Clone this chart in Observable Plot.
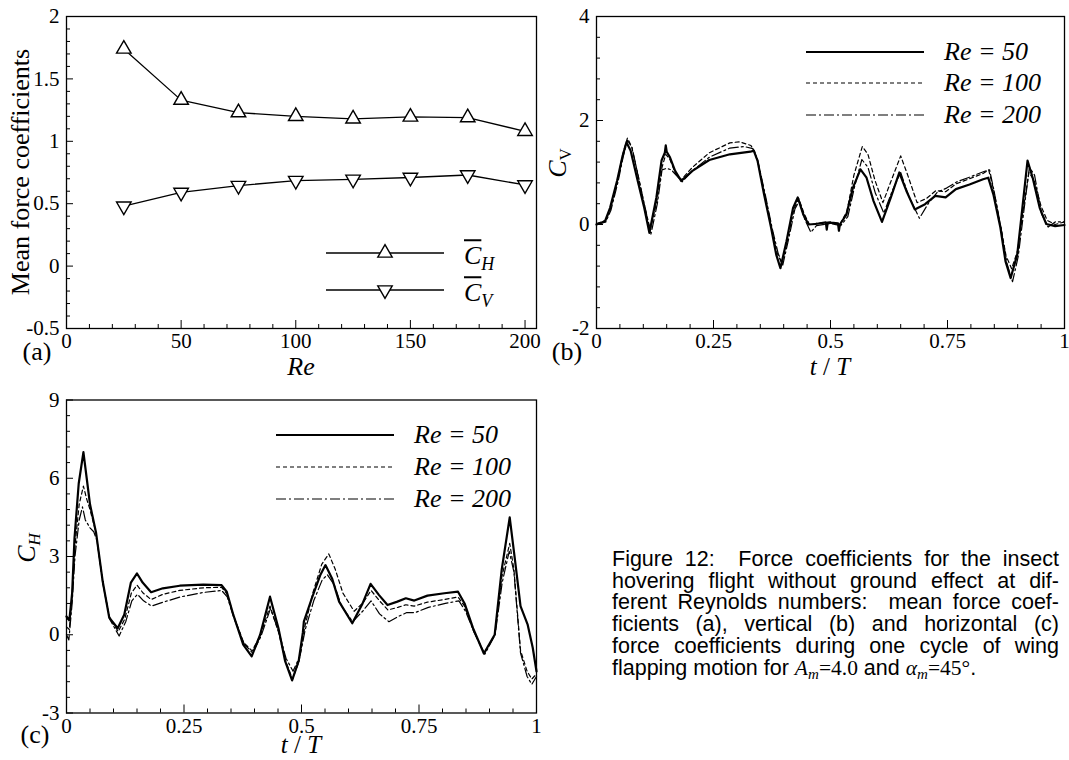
<!DOCTYPE html>
<html><head><meta charset="utf-8">
<script src="https://cdn.jsdelivr.net/npm/d3@7"></script>
<script src="https://cdn.jsdelivr.net/npm/@observablehq/plot@0.6"></script>
<style>
html,body{margin:0;padding:0;background:#fff;}
#fig{position:relative;width:1069px;height:760px;overflow:hidden;background:#fff;font-family:'Liberation Serif','Times New Roman',serif;color:#000;}
.abs{position:absolute;white-space:nowrap;line-height:0.75;}
.panel{position:absolute;}
.panel svg{overflow:visible;}
.cap{position:absolute;left:612px;top:549px;width:447px;font-family:'Liberation Sans',Arial,sans-serif;font-size:21.5px;line-height:21.7px;}
.cap div{text-align:justify;text-align-last:justify;white-space:nowrap;}
.cap div.last{text-align:left;text-align-last:left;}
.m{font-family:'Liberation Serif','Times New Roman',serif;}
.sb{font-size:70%;position:relative;top:0.28em;}
</style></head><body><div id="fig"></div>
<script>
// ---------- Panel (a): mean force coefficients ----------
const reynolds = [25, 50, 75, 100, 125, 150, 175, 200];
const meanCH = [1.74, 1.33, 1.23, 1.20, 1.18, 1.195, 1.19, 1.08];
const meanCV = [0.48, 0.59, 0.645, 0.685, 0.695, 0.71, 0.73, 0.65];
const aXMajor = [0, 50, 100, 150, 200];
const aXMinor = [10,20,30,40,60,70,80,90,110,120,130,140,160,170,180,190];
const aYMajor = [-0.5, 0, 0.5, 1, 1.5, 2];
const aYMinor = [-0.4,-0.3,-0.2,-0.1,0.1,0.2,0.3,0.4,0.6,0.7,0.8,0.9,1.1,1.2,1.3,1.4,1.6,1.7,1.8,1.9];

// ---------- Panel (b): C_V over one cycle ----------
const cvRe50 = [[0.000,0.0],[0.018,0.06],[0.029,0.32],[0.044,0.84],[0.055,1.29],[0.064,1.58],[0.073,1.42],[0.088,0.84],[0.102,0.32],[0.113,-0.16],[0.128,0.52],[0.139,1.23],[0.146,1.38],[0.148,1.52],[0.150,1.40],[0.157,1.29],[0.168,1.03],[0.181,0.84],[0.205,1.03],[0.241,1.24],[0.285,1.35],[0.329,1.40],[0.336,1.42],[0.344,1.23],[0.358,0.58],[0.373,-0.06],[0.384,-0.58],[0.393,-0.84],[0.406,-0.32],[0.420,0.32],[0.430,0.52],[0.442,0.19],[0.453,0.0],[0.468,0.01],[0.490,0.04],[0.492,-0.10],[0.494,0.03],[0.506,0.03],[0.516,0.02],[0.518,-0.12],[0.520,0.0],[0.534,0.19],[0.548,0.71],[0.564,1.06],[0.577,0.90],[0.592,0.45],[0.610,0.05],[0.629,0.52],[0.647,1.0],[0.662,0.65],[0.680,0.29],[0.702,0.39],[0.724,0.55],[0.746,0.52],[0.768,0.68],[0.797,0.77],[0.826,0.87],[0.837,0.90],[0.848,0.58],[0.863,-0.06],[0.874,-0.71],[0.885,-1.03],[0.899,-0.58],[0.910,0.32],[0.921,1.23],[0.932,0.90],[0.947,0.32],[0.961,0.01],[0.980,-0.03],[1.000,-0.01]];
const cvRe100 = [[0.000,0.02],[0.020,0.08],[0.030,0.30],[0.045,0.85],[0.056,1.35],[0.066,1.66],[0.075,1.50],[0.090,0.90],[0.104,0.30],[0.115,-0.10],[0.129,0.45],[0.140,1.10],[0.148,1.35],[0.157,1.25],[0.168,1.00],[0.181,0.86],[0.205,1.10],[0.241,1.38],[0.285,1.57],[0.305,1.59],[0.330,1.52],[0.338,1.40],[0.346,1.15],[0.360,0.55],[0.375,-0.10],[0.386,-0.55],[0.396,-0.75],[0.408,-0.30],[0.422,0.30],[0.432,0.50],[0.444,0.20],[0.455,0.0],[0.470,0.02],[0.500,0.05],[0.520,0.0],[0.535,0.25],[0.550,0.95],[0.568,1.50],[0.580,1.35],[0.595,0.85],[0.612,0.42],[0.630,0.85],[0.650,1.32],[0.665,0.95],[0.685,0.42],[0.705,0.50],[0.725,0.65],[0.746,0.63],[0.768,0.78],[0.797,0.88],[0.826,0.98],[0.838,1.05],[0.849,0.65],[0.864,-0.05],[0.875,-0.60],[0.887,-0.85],[0.900,-0.50],[0.912,0.30],[0.924,1.00],[0.935,0.85],[0.950,0.35],[0.963,0.08],[0.980,0.0],[1.000,0.05]];
const cvRe200 = [[0.000,0.0],[0.020,0.05],[0.031,0.28],[0.046,0.82],[0.057,1.30],[0.066,1.62],[0.076,1.48],[0.091,0.85],[0.105,0.28],[0.116,-0.20],[0.130,0.40],[0.140,1.05],[0.150,1.08],[0.160,1.05],[0.170,0.95],[0.183,0.82],[0.207,1.05],[0.242,1.30],[0.285,1.47],[0.315,1.50],[0.334,1.46],[0.344,1.25],[0.360,0.60],[0.376,-0.10],[0.388,-0.55],[0.398,-0.78],[0.410,-0.30],[0.424,0.30],[0.433,0.45],[0.445,0.10],[0.458,-0.15],[0.470,-0.02],[0.500,0.02],[0.522,-0.02],[0.537,0.15],[0.552,0.75],[0.567,1.25],[0.580,1.10],[0.596,0.60],[0.614,0.22],[0.632,0.65],[0.650,1.00],[0.667,0.55],[0.690,0.12],[0.710,0.42],[0.728,0.62],[0.748,0.70],[0.770,0.82],[0.800,0.92],[0.828,1.02],[0.840,1.05],[0.850,0.62],[0.865,-0.10],[0.877,-0.75],[0.889,-1.10],[0.901,-0.62],[0.913,0.25],[0.925,1.10],[0.936,0.95],[0.951,0.20],[0.965,-0.05],[0.980,0.05],[1.000,0.05]];
const tMajor = [0, 0.25, 0.5, 0.75, 1];
const tMinor = [0.05,0.1,0.15,0.2,0.3,0.35,0.4,0.45,0.55,0.6,0.65,0.7,0.8,0.85,0.9,0.95];
const bYMajor = [-2, 0, 2, 4];
const bYMinor = [-1.6,-1.2,-0.8,-0.4,0.4,0.8,1.2,1.6,2.4,2.8,3.2,3.6];

// ---------- Panel (c): C_H over one cycle ----------
const chRe50 = [[0.000,0.70],[0.006,0.55],[0.012,1.6],[0.017,3.7],[0.026,5.8],[0.036,7.0],[0.043,6.0],[0.050,5.0],[0.063,3.9],[0.077,2.05],[0.091,0.65],[0.109,0.25],[0.123,0.78],[0.137,2.0],[0.150,2.35],[0.162,2.0],[0.180,1.63],[0.205,1.78],[0.241,1.88],[0.291,1.92],[0.330,1.90],[0.341,1.65],[0.355,0.76],[0.376,-0.38],[0.394,-0.83],[0.412,0.0],[0.433,1.46],[0.451,0.25],[0.465,-1.0],[0.480,-1.75],[0.494,-1.0],[0.503,0.1],[0.505,0.5],[0.522,1.4],[0.540,2.29],[0.551,2.67],[0.565,2.16],[0.580,1.27],[0.608,0.44],[0.630,1.2],[0.647,1.95],[0.665,1.52],[0.683,1.14],[0.704,1.27],[0.722,1.4],[0.740,1.31],[0.768,1.5],[0.804,1.59],[0.833,1.65],[0.847,1.2],[0.865,0.25],[0.888,-0.72],[0.911,0.0],[0.926,2.5],[0.943,4.5],[0.954,2.9],[0.966,1.1],[0.981,0.4],[0.992,-0.5],[1.000,-1.4]];
const chRe100 = [[0.000,0.3],[0.006,0.2],[0.012,1.5],[0.018,3.4],[0.027,5.0],[0.036,5.7],[0.043,5.2],[0.050,4.8],[0.063,3.9],[0.077,2.0],[0.091,0.7],[0.110,0.12],[0.124,0.6],[0.138,1.6],[0.150,1.9],[0.163,1.6],[0.180,1.35],[0.205,1.55],[0.241,1.70],[0.291,1.80],[0.330,1.82],[0.342,1.55],[0.356,0.7],[0.377,-0.3],[0.395,-0.62],[0.413,0.0],[0.433,1.1],[0.451,0.1],[0.466,-1.0],[0.481,-1.7],[0.495,-1.0],[0.507,0.3],[0.524,1.6],[0.543,2.7],[0.558,3.1],[0.572,2.5],[0.588,1.6],[0.612,0.9],[0.632,1.25],[0.648,1.7],[0.666,1.3],[0.684,0.95],[0.705,1.05],[0.722,1.15],[0.740,1.1],[0.768,1.25],[0.804,1.35],[0.833,1.45],[0.847,1.1],[0.865,0.2],[0.889,-0.72],[0.911,0.0],[0.926,2.2],[0.943,3.5],[0.952,2.5],[0.966,-0.6],[0.980,-1.4],[0.990,-1.7],[1.000,-1.5]];
const chRe200 = [[0.000,0.0],[0.005,-0.2],[0.012,1.2],[0.018,3.0],[0.027,4.4],[0.034,4.9],[0.040,4.4],[0.050,4.1],[0.058,3.95],[0.065,3.6],[0.078,1.9],[0.092,0.6],[0.112,-0.05],[0.126,0.5],[0.139,1.3],[0.151,1.55],[0.164,1.3],[0.181,1.1],[0.206,1.25],[0.242,1.45],[0.291,1.62],[0.330,1.70],[0.342,1.45],[0.357,0.6],[0.378,-0.35],[0.396,-0.7],[0.414,-0.05],[0.434,1.0],[0.452,0.1],[0.467,-0.9],[0.482,-1.4],[0.497,-0.8],[0.508,0.2],[0.526,1.3],[0.544,2.1],[0.555,2.3],[0.570,1.9],[0.585,1.1],[0.609,0.5],[0.630,0.9],[0.648,1.3],[0.666,0.8],[0.686,0.5],[0.706,0.7],[0.724,0.85],[0.742,0.85],[0.770,1.05],[0.806,1.2],[0.835,1.3],[0.849,0.9],[0.867,0.1],[0.890,-0.75],[0.912,0.0],[0.927,2.0],[0.942,3.2],[0.952,2.4],[0.966,-0.7],[0.980,-1.6],[0.990,-1.9],[1.000,-1.6]];
const cYMajor = [-3, 0, 3, 6, 9];
const cYMinor = [-2.4,-1.8,-1.2,-0.6,0.6,1.2,1.8,2.4,3.6,4.2,4.8,5.4,6.6,7.2,7.8,8.4];

const seriesNames = ["Re = 50", "Re = 100", "Re = 200"];
const captionLines = [
  "Figure 12:&nbsp; Force coefficients for the insect",
  "hovering flight without ground effect at dif-",
  "ferent Reynolds numbers:&nbsp; mean force coef-",
  "ficients (a), vertical (b) and horizontal (c)",
  "force coefficients during one cycle of wing",
  "flapping motion for <span class='m'><i>A</i><span class='sb'><i>m</i></span>=4.0</span> and <span class='m'><i>α</i><span class='sb'><i>m</i></span>=45°</span>."
];

// ---------- styles ----------
const lineStyles = [
  {strokeWidth: 2.2, strokeDasharray: null},
  {strokeWidth: 1.2, strokeDasharray: "4,3"},
  {strokeWidth: 1.2, strokeDasharray: "10,3,2,3"}
];

const fig = document.getElementById("fig");
const toRows = (pairs) => pairs.map(([t, v]) => ({t, v}));

function addText(html, x, y, o = {}) {
  const d = document.createElement("div");
  d.className = "abs";
  d.innerHTML = html;
  d.style.left = x + "px";
  d.style.top = y + "px";
  d.style.fontSize = (o.size || 26) + "px";
  if (o.italic) d.style.fontStyle = "italic";
  let tr = o.anchor === "left" ? "translate(0,-50%)" : "translate(-50%,-50%)";
  if (o.rotate) tr += " rotate(-90deg)";
  d.style.transform = tr;
  fig.appendChild(d);
}

function panel(o) {
  const chart = Plot.plot({
    width: o.width, height: o.height,
    marginLeft: o.ml, marginRight: o.mr, marginTop: o.mt, marginBottom: o.mb,
    x: {domain: o.xDomain}, y: {domain: o.yDomain},
    style: {fontFamily: "'Liberation Serif','Times New Roman',serif", fontSize: "21px", color: "black", background: "transparent", overflow: "visible"},
    marks: [
      ...o.marks,
      Plot.frame({stroke: "black", strokeWidth: 1.3}),
      Plot.axisX(o.xMinor, {anchor: "bottom", tickSize: -4, fill: "none", label: null}),
      Plot.axisX(o.xMajor, {anchor: "bottom", tickSize: -8, tickPadding: 13, tickFormat: d => String(d), label: null}),
      Plot.axisY(o.yMinor, {anchor: "left", tickSize: -4, fill: "none", label: null}),
      Plot.axisY(o.yMajor, {anchor: "left", tickSize: -7, tickPadding: 14, tickFormat: d => String(d), label: null})
    ]
  });
  const wrap = document.createElement("div");
  wrap.className = "panel";
  wrap.style.left = o.left + "px";
  wrap.style.top = o.top + "px";
  wrap.appendChild(chart);
  fig.appendChild(wrap);
}

function timeMarks(s50, s100, s200) {
  const sets = [s50, s100, s200];
  return [2, 1, 0].map(i => Plot.line(toRows(sets[i]), {x: "t", y: "v", stroke: "black", strokeWidth: lineStyles[i].strokeWidth, strokeDasharray: lineStyles[i].strokeDasharray, strokeLinejoin: "round"}));
}

// Panel (a)
const hRows = reynolds.map((re, i) => ({re, v: meanCH[i]}));
const vRows = reynolds.map((re, i) => ({re, v: meanCV[i]}));
panel({
  left: 0, top: 0, width: 545, height: 380, ml: 66, mr: 9, mt: 16, mb: 52,
  xDomain: [0, 205], yDomain: [-0.5, 2],
  xMajor: aXMajor, xMinor: aXMinor, yMajor: aYMajor, yMinor: aYMinor,
  marks: [
    Plot.line(hRows, {x: "re", y: "v", stroke: "black", strokeWidth: 1.3}),
    Plot.line(vRows, {x: "re", y: "v", stroke: "black", strokeWidth: 1.3}),
    Plot.dot(hRows, {x: "re", y: "v", symbol: "triangle", r: 5.4, stroke: "black", fill: "white", strokeWidth: 1.4}),
    Plot.dot(vRows, {x: "re", y: "v", symbol: "triangle", r: 5.4, rotate: 180, stroke: "black", fill: "white", strokeWidth: 1.4})
  ]
});
// Panel (b)
panel({
  left: 545, top: 0, width: 524, height: 380, ml: 51, mr: 5, mt: 16, mb: 52,
  xDomain: [0, 1], yDomain: [-2, 4],
  xMajor: tMajor, xMinor: tMinor, yMajor: bYMajor, yMinor: bYMinor,
  marks: timeMarks(cvRe50, cvRe100, cvRe200)
});
// Panel (c)
panel({
  left: 0, top: 380, width: 545, height: 380, ml: 66, mr: 9, mt: 19.5, mb: 47.5,
  xDomain: [0, 1], yDomain: [-3, 9],
  xMajor: tMajor, xMinor: tMinor, yMajor: cYMajor, yMinor: cYMinor,
  marks: timeMarks(chRe50, chRe100, chRe200)
});

// ---------- axis titles and panel letters ----------
addText("Mean force coefficients", 21, 172, {rotate: true});
addText("Re", 301, 367, {italic: true});
addText("(a)", 37, 352);
addText("<i>C</i><span style='font-size:17px;position:relative;top:0.3em'>V</span>", 558, 163, {rotate: true});
addText("(b)", 567, 352);
addText("<i>t</i> / <i>T</i>", 830, 367, {size: 25});
addText("<i>C</i><span style='font-size:17px;position:relative;top:0.3em'><i>H</i></span>", 27, 548, {rotate: true});
addText("(c)", 35, 735);
addText("<i>t</i> / <i>T</i>", 301, 745, {size: 25});

// ---------- legends ----------
function swatch(x1, x2, y, style, marker) {
  const svg = d3.create("svg").attr("width", x2 - x1 + 20).attr("height", 24)
    .style("position", "absolute").style("left", (x1 - 10) + "px").style("top", (y - 12) + "px").style("overflow", "visible");
  svg.append("line").attr("x1", 10).attr("x2", x2 - x1 + 10).attr("y1", 12).attr("y2", 12)
    .attr("stroke", "black").attr("stroke-width", style.strokeWidth).attr("stroke-dasharray", style.strokeDasharray);
  if (marker) {
    svg.append("path").attr("d", d3.symbol(d3.symbolTriangle, 90)())
      .attr("transform", `translate(${(x2 - x1) / 2 + 10},12) rotate(${marker === "down" ? 180 : 0})`)
      .attr("fill", "white").attr("stroke", "black").attr("stroke-width", 1.4);
  }
  fig.appendChild(svg.node());
}
const legB = [52, 83, 115];
const legC = [435, 467, 499];
seriesNames.forEach((name, i) => {
  swatch(806, 924, legB[i], lineStyles[i]);
  addText(name, 944, legB[i], {italic: true, anchor: "left"});
  swatch(276, 394, legC[i], lineStyles[i]);
  addText(name, 414, legC[i], {italic: true, anchor: "left"});
});
const aStyle = {strokeWidth: 1.3, strokeDasharray: null};
swatch(326, 444, 253, aStyle, "up");
swatch(326, 444, 290, aStyle, "down");
addText("<i style='text-decoration:overline'>C</i><span style='font-size:18px;position:relative;top:0.35em'><i>H</i></span>", 464, 256, {anchor: "left"});
addText("<i style='text-decoration:overline'>C</i><span style='font-size:18px;position:relative;top:0.35em'><i>V</i></span>", 464, 293, {anchor: "left"});

// ---------- caption ----------
const cap = document.createElement("div");
cap.className = "cap";
cap.innerHTML = captionLines.map((l, i) => `<div class="${i === captionLines.length - 1 ? 'last' : ''}">${l}</div>`).join("");
fig.appendChild(cap);
</script></body></html>
